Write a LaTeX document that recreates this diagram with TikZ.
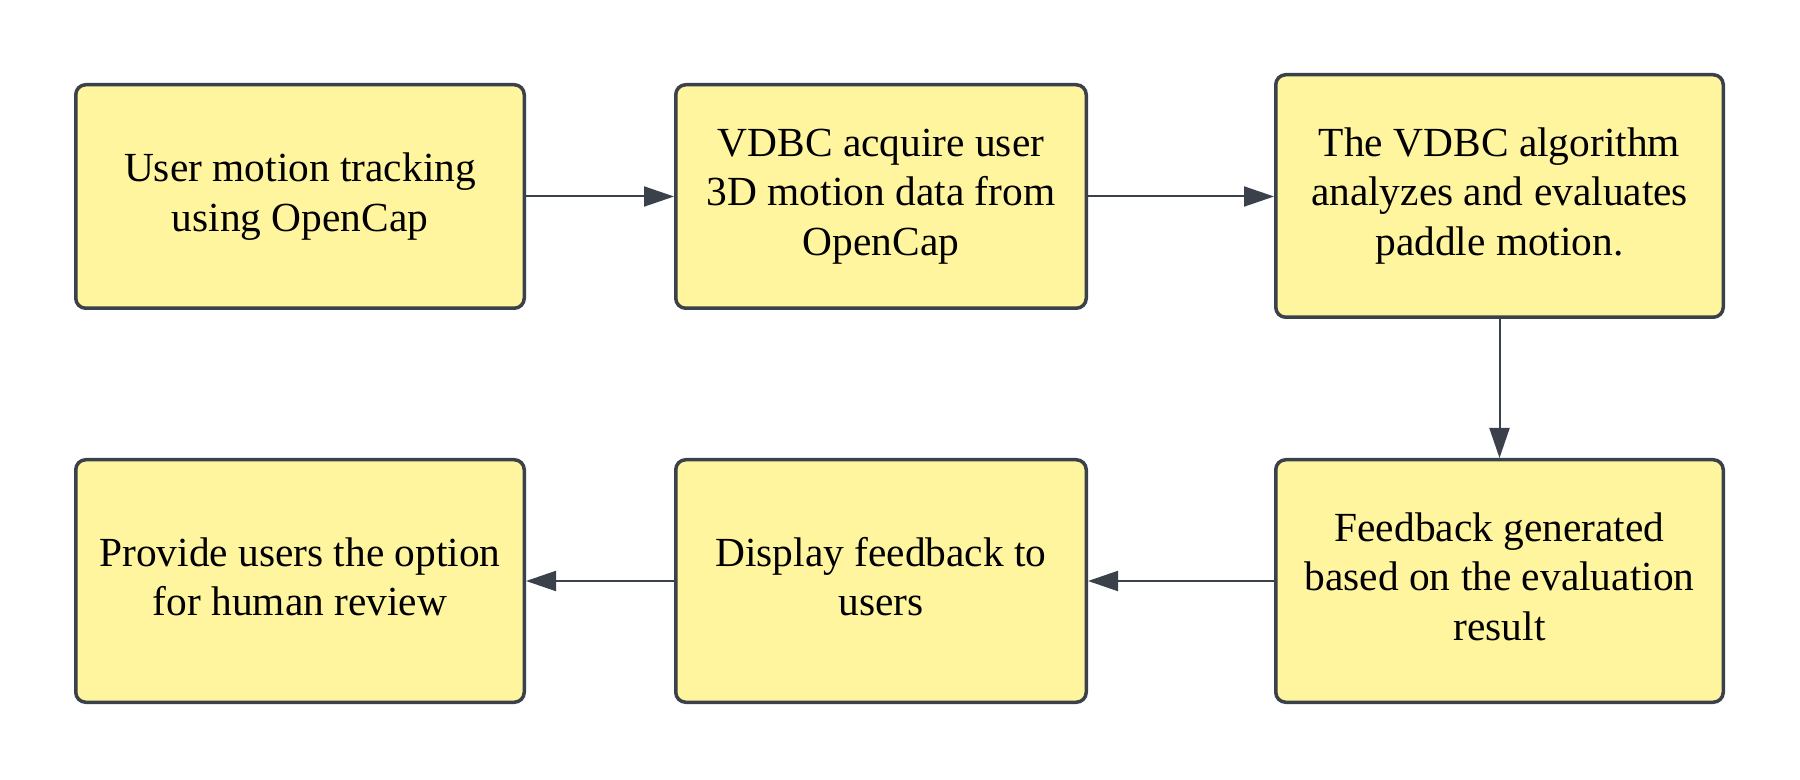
\documentclass[tikz,border=0pt]{standalone}
\usepackage{fontspec}
\setmainfont{Liberation Serif}
\usetikzlibrary{arrows.meta}
\definecolor{boxfill}{HTML}{FFF59F}
\definecolor{edgec}{HTML}{3A414A}
\begin{document}
\begin{tikzpicture}[x=0.5pt,y=-0.5pt,
  stepbox/.style={draw=edgec, fill=boxfill, line width=1.75pt, rounded corners=5pt,
    inner sep=0pt, align=center, text=black,
    font=\fontsize{20.7}{24.7}\selectfont},
  flow/.style={draw=edgec, line width=1pt, -{Triangle[length=15pt,width=10pt]}}]
\useasboundingbox[fill=white] (0,0) rectangle (1800,780);
\node[stepbox, minimum width=224.25pt, minimum height=111.75pt] (b1) at (300,196.5)
  {User motion tracking\\using OpenCap};
\node[stepbox, minimum width=205.25pt, minimum height=111.75pt] (b2) at (881,196.5)
  {VDBC acquire user\\3D motion data from\\OpenCap};
\node[stepbox, minimum width=223.75pt, minimum height=121.25pt] (b3) at (1499.5,196)
  {The VDBC algorithm\\analyzes and evaluates\\paddle motion.};
\node[stepbox, minimum width=224.25pt, minimum height=121.25pt] (b4) at (300,581)
  {Provide users the option\\for human review\vphantom{p}};
\node[stepbox, minimum width=205.25pt, minimum height=121.25pt] (b5) at (881,581)
  {Display feedback to\\users\vphantom{p}};
\node[stepbox, minimum width=223.75pt, minimum height=121.25pt] (b6) at (1499.5,581)
  {Feedback generated\\based on the evaluation\\result\vphantom{p}};
\draw[flow] (b1.east) -- (b2.west);
\draw[flow] (b2.east) -- (b3.west |- b2.east);
\draw[flow] (b3.south) -- (b6.north);
\draw[flow] (b6.west) -- (b5.east);
\draw[flow] (b5.west) -- (b4.east);
\end{tikzpicture}
\end{document}
